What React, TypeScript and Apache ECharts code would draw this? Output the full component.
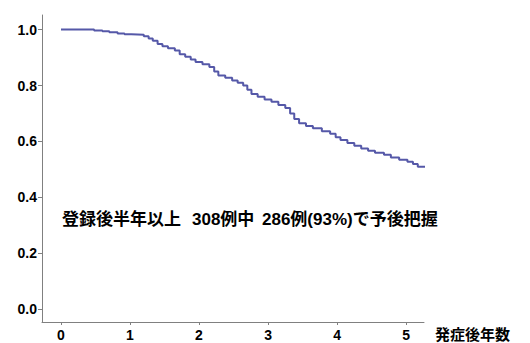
import React, { useEffect, useRef } from "react";
import * as echarts from "echarts";

const years = [0, 0.48, 0.6, 0.7, 0.82, 0.92, 1.02, 1.2, 1.27, 1.33, 1.4, 1.47, 1.55, 1.65, 1.72, 1.8, 1.88, 1.95, 2.05, 2.15, 2.22, 2.28, 2.38, 2.48, 2.56, 2.64, 2.7, 2.76, 2.85, 2.95, 3.05, 3.15, 3.25, 3.32, 3.38, 3.45, 3.55, 3.65, 3.78, 3.9, 3.98, 4.05, 4.15, 4.25, 4.35, 4.45, 4.55, 4.68, 4.78, 4.9, 5.02, 5.1, 5.17, 5.35];
const survival = [1.0, 0.997, 0.994, 0.99, 0.986, 0.983, 0.981, 0.976, 0.968, 0.96, 0.948, 0.94, 0.933, 0.925, 0.912, 0.903, 0.893, 0.884, 0.876, 0.866, 0.85, 0.836, 0.828, 0.818, 0.81, 0.8, 0.785, 0.77, 0.76, 0.75, 0.742, 0.73, 0.72, 0.7, 0.68, 0.665, 0.655, 0.647, 0.637, 0.628, 0.615, 0.605, 0.595, 0.585, 0.575, 0.567, 0.56, 0.553, 0.543, 0.535, 0.528, 0.52, 0.51, 0.51];
const xTicks = [0, 1, 2, 3, 4, 5];
const yTicks = [0, 0.2, 0.4, 0.6, 0.8, 1.0];
const xAxisName = "発症後年数";
const annotation = ["登録後半年以上", "308例中", "286例(93%)で予後把握"];

export default function App() {
  const ref = useRef<HTMLDivElement>(null);
  useEffect(() => {
    if (!ref.current) return;
    const chart = echarts.init(ref.current, undefined, { renderer: "svg" });
    const font = "'Liberation Sans', Arial, sans-serif";
    const mixed = "'Liberation Sans', 'Noto Sans CJK JP', sans-serif";
    const cjk = "'Noto Sans CJK JP', 'Liberation Sans', sans-serif";
    const axisLine = { show: true, lineStyle: { color: "#808080", width: 1 } };
    chart.setOption({
      animation: false,
      backgroundColor: "#ffffff",
      grid: { left: 42, right: 106, top: 15, bottom: 21 },
      xAxis: {
        type: "value",
        min: -0.275,
        max: 5.26,
        axisLine: { ...axisLine, onZero: false },
        axisTick: { show: true, length: 3, customValues: xTicks, lineStyle: { color: "#808080" } },
        axisLabel: {
          customValues: xTicks,
          color: "#000",
          fontWeight: "bold",
          fontSize: 14,
          fontFamily: font,
          margin: 6,
        },
        splitLine: { show: false },
        name: xAxisName,
        nameLocation: "end",
        nameGap: 11,
        nameTextStyle: {
          color: "#000",
          fontWeight: "bold",
          fontSize: 15,
          fontFamily: cjk,
          verticalAlign: "top",
          padding: [4, 0, 0, 0],
        },
      },
      yAxis: {
        type: "value",
        min: -0.045,
        max: 1.052,
        axisLine: { ...axisLine, onZero: false },
        axisTick: { show: true, length: 4, customValues: yTicks, lineStyle: { color: "#808080" } },
        axisLabel: {
          customValues: yTicks,
          formatter: (v: number) => v.toFixed(1),
          color: "#000",
          fontWeight: "bold",
          fontSize: 14,
          fontFamily: font,
          margin: 5,
        },
        splitLine: { show: false },
      },
      series: [
        {
          type: "line",
          step: "end",
          showSymbol: false,
          clip: false,
          data: years.map((t, i) => [t, survival[i]]),
          lineStyle: { color: "#5558a8", width: 2 },
        },
      ],
      graphic: [
        { type: "text", left: 62, top: 211, style: { text: annotation[0], font: `bold 17px ${mixed}`, fill: "#000" } },
        { type: "text", left: 192, top: 211, style: { text: annotation[1], font: `bold 17px ${mixed}`, fill: "#000" } },
        { type: "text", left: 262, top: 211, style: { text: annotation[2], font: `bold 17px ${mixed}`, fill: "#000" } },
      ],
    });
    return () => chart.dispose();
  }, []);
  return <div ref={ref} style={{ width: 530, height: 343, position: "absolute", left: 0, top: 0 }} />;
}
